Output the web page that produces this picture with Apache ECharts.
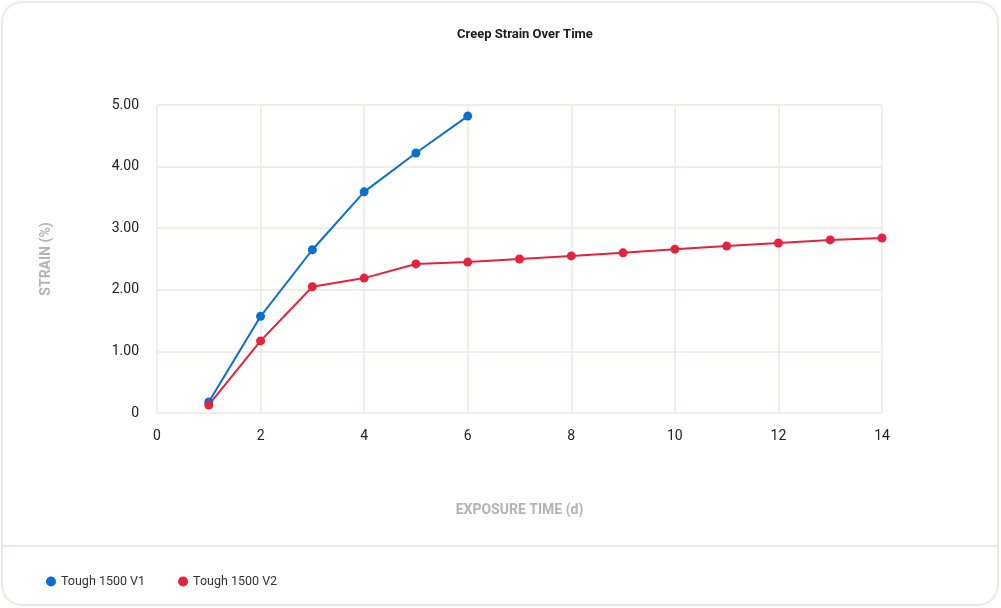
<!DOCTYPE html>
<html><head><meta charset="utf-8">
<script src="https://cdn.jsdelivr.net/npm/echarts@6/dist/echarts.min.js"></script>
<style>html,body{margin:0;padding:0;background:#fff}#c{width:1001px;height:608px}</style>
</head><body><div id="c"></div>
<script>
const title = 'Creep Strain Over Time';
const xName = 'EXPOSURE TIME (d)';
const yName = 'STRAIN (%)';
const v1Name = 'Tough 1500 V1';
const v2Name = 'Tough 1500 V2';
const v1Days = [1, 2, 3, 4, 5, 6];
const v1Strain = [0.18, 1.57, 2.65, 3.59, 4.22, 4.82];
const v2Days = [1, 2, 3, 4, 5, 6, 7, 8, 9, 10, 11, 12, 13, 14];
const v2Strain = [0.13, 1.17, 2.05, 2.19, 2.42, 2.45, 2.50, 2.55, 2.60, 2.66, 2.71, 2.76, 2.81, 2.84];
const FONT = 'Roboto';
const chart = echarts.init(document.getElementById('c'), null, {renderer:'canvas'});
chart.setOption({
  animation:false,
  backgroundColor:'#fff',
  title:{text:title,left:452,top:23,textStyle:{fontFamily:FONT,fontSize:13,fontWeight:'bold',color:'#1a1a1a'}},
  graphic:[
    {type:'rect',shape:{x:2,y:2,width:996,height:603,r:20},style:{fill:'none',stroke:'#ebe8e1',lineWidth:2},z:-1},
    {type:'line',shape:{x1:3,y1:546,x2:998,y2:546},style:{stroke:'#ebe8e1',lineWidth:2},z:-1}
  ],
  legend:{left:41,top:570,icon:'circle',itemWidth:10,itemHeight:10,itemGap:33,
    textStyle:{fontFamily:FONT,fontSize:12.5,color:'#333'},data:[v1Name,v2Name]},
  grid:{left:157,right:119,top:105,bottom:195},
  xAxis:{type:'value',min:0,max:14,interval:2,name:xName,nameLocation:'middle',nameGap:90,
    nameTextStyle:{fontFamily:FONT,fontSize:14,fontWeight:'bold',color:'#b3b3b3'},
    axisLine:{show:false},axisTick:{show:false},
    axisLabel:{fontFamily:FONT,fontSize:14,color:'#222',margin:16},
    splitLine:{show:true,lineStyle:{color:'#ece9e3',width:1.5}}},
  yAxis:{type:'value',min:0,max:5,interval:1,name:yName,nameLocation:'middle',nameGap:104,
    nameTextStyle:{fontFamily:FONT,fontSize:14,fontWeight:'bold',color:'#b3b3b3'},
    axisLine:{show:false},axisTick:{show:false},
    axisLabel:{fontFamily:FONT,fontSize:14,color:'#222',margin:18,
      formatter:v=>v===0?'0':v.toFixed(2)},
    splitLine:{show:true,lineStyle:{color:'#ece9e3',width:1.5}}},
  series:[
    {name:v1Name,type:'line',data:v1Days.map((d,i)=>[d,v1Strain[i]]),color:'#0a6fd0',
      symbol:'circle',symbolSize:9,lineStyle:{width:2}},
    {name:v2Name,type:'line',data:v2Days.map((d,i)=>[d,v2Strain[i]]),color:'#e5223f',
      symbol:'circle',symbolSize:9,lineStyle:{width:2}}
  ]
});
</script></body></html>
